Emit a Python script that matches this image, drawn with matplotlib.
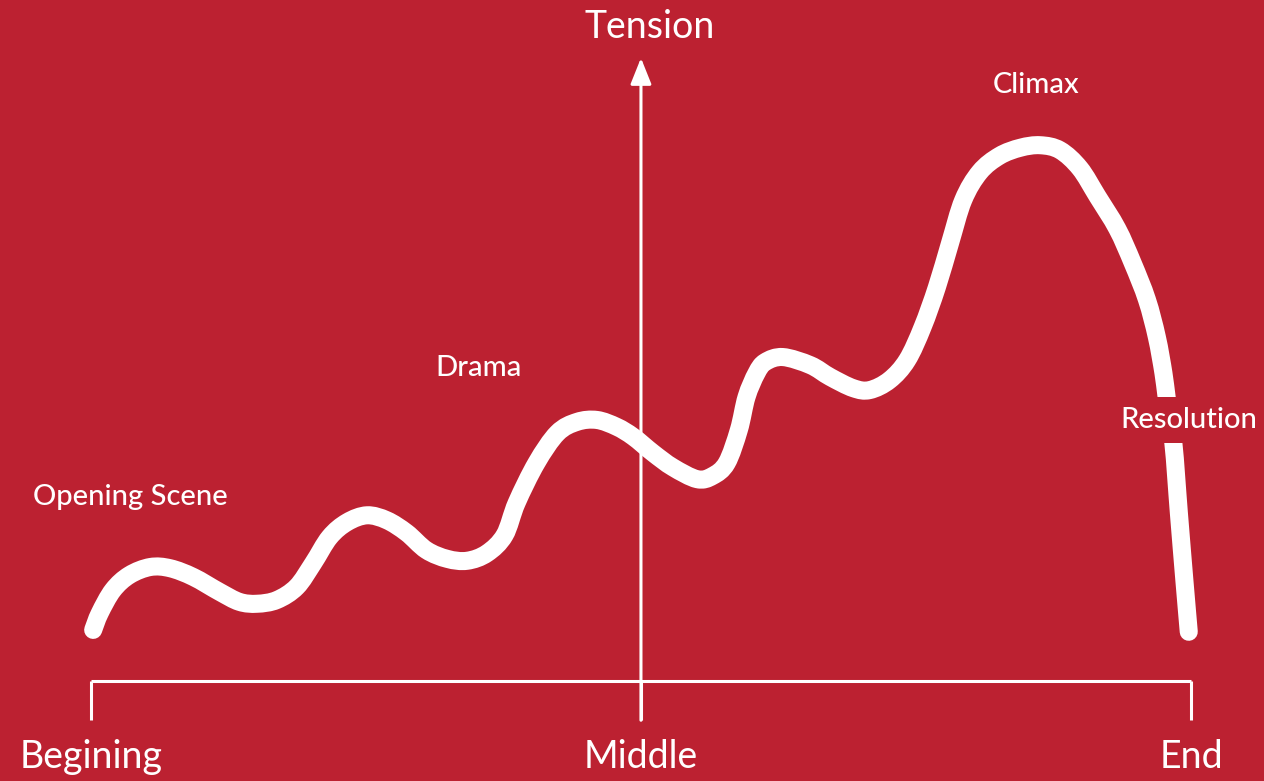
import matplotlib
matplotlib.use('Agg')
from matplotlib import pyplot as plt
from matplotlib.path import Path
from matplotlib.patches import PathPatch

# story progress (0 = begining, 50 = middle, 100 = end) and tension (0 = baseline, 100 = arrow tip)
story = [0.2, 0.8, 2.0, 3.5, 5.4, 7.2, 9.3, 11.7, 13.5, 15.1, 16.9, 18.7, 20.2, 21.7,
         23.3, 25.1, 26.9, 28.7, 30.5, 32.4, 34.2, 36.0, 37.6, 38.7, 40.5, 42.4, 44.2,
         46.0, 47.8, 49.3, 51.1, 52.9, 55.1, 56.5, 57.8, 58.9, 59.6, 60.5, 61.3, 62.9,
         65.4, 67.2, 69.3, 70.8, 72.6, 74.2, 75.6, 76.9, 78.1, 79.3, 80.8, 82.6, 84.5,
         86.3, 88.1, 89.9, 91.5, 93.3, 94.7, 96.0, 96.9, 97.5, 97.8, 98.4, 98.9, 99.4, 99.8]
tension = [8.2, 10.9, 14.6, 17.0, 18.3, 18.1, 16.7, 14.3, 12.7, 12.4, 13.0, 15.1, 18.9, 23.1,
           25.5, 26.6, 25.8, 23.8, 21.0, 19.6, 19.3, 20.5, 23.4, 28.6, 35.0, 39.8, 41.6,
           41.9, 40.8, 39.2, 36.6, 34.3, 32.4, 32.9, 35.0, 40.3, 45.6, 49.4, 51.2, 52.0,
           50.7, 48.8, 47.0, 46.7, 48.3, 51.5, 56.8, 63.2, 70.3, 77.2, 81.7, 84.3, 85.6,
           86.0, 85.2, 82.3, 77.8, 72.6, 67.1, 61.2, 55.2, 49.4, 45.4, 38.2, 27.0, 16.2, 7.9]

tick_pos = [0, 50, 100]
tick_labels = ['Begining', 'Middle', 'End']

# stage labels: text, story position, tension position
stages = [('Opening Scene', 3.6, 29.5),
          ('Drama', 35.2, 50.2),
          ('Climax', 85.9, 95.7),
          ('Resolution', 99.8, 41.9)]

red = '#bc2131'
font = 'Lato'

fig = plt.figure(figsize=(12.64, 7.81), dpi=100, facecolor=red)
ax = fig.add_axes([0, 0, 1, 1])
ax.set_facecolor(red)
ax.set_xlim(-8.27, 106.64)
ax.set_ylim(-16.05, 109.31)
ax.axis('off')

# baseline and ticks
ax.plot([0, 100], [0, 0], c='white', lw=2.2, solid_capstyle='butt')
for p in tick_pos:
    ax.plot([p, p], [0, -6.3], c='white', lw=2.2, solid_capstyle='butt')

# tension axis with arrow
ax.annotate('', xy=(50, 100), xytext=(50, -6.3),
            arrowprops=dict(arrowstyle='-|>,head_length=0.8,head_width=0.32',
                            mutation_scale=20, lw=2.2, color='white',
                            shrinkA=0, shrinkB=0))

# the story curve, smooth bezier through the read points (catmull-rom handles)
pts = list(zip(story, tension))
verts = [pts[0]]
codes = [Path.MOVETO]
n = len(pts)
for i in range(n - 1):
    p0 = pts[max(i - 1, 0)]
    p1 = pts[i]
    p2 = pts[i + 1]
    p3 = pts[min(i + 2, n - 1)]
    c1 = (p1[0] + (p2[0] - p0[0]) / 6, p1[1] + (p2[1] - p0[1]) / 6)
    c2 = (p2[0] - (p3[0] - p1[0]) / 6, p2[1] - (p3[1] - p1[1]) / 6)
    verts += [c1, c2, p2]
    codes += [Path.CURVE4] * 3
curve = PathPatch(Path(verts, codes), fill=False, edgecolor='white', lw=13,
                  capstyle='round', joinstyle='round', zorder=3)
ax.add_patch(curve)

for p, lab in zip(tick_pos, tick_labels):
    ax.text(p, -12.2, lab, color='white', fontsize=27, family=font,
            ha='center', va='center')
ax.text(50.8, 105, 'Tension', color='white', fontsize=27, family=font,
        ha='center', va='center')

for name, sx, ty in stages:
    box = None
    if name == 'Resolution':
        box = dict(facecolor=red, edgecolor='none', pad=7)
    ax.text(sx, ty, name, color='white', fontsize=21, family=font,
            fontweight='medium', ha='center', va='center', bbox=box, zorder=4)

fig.savefig('out.png', dpi=100, facecolor=red)
